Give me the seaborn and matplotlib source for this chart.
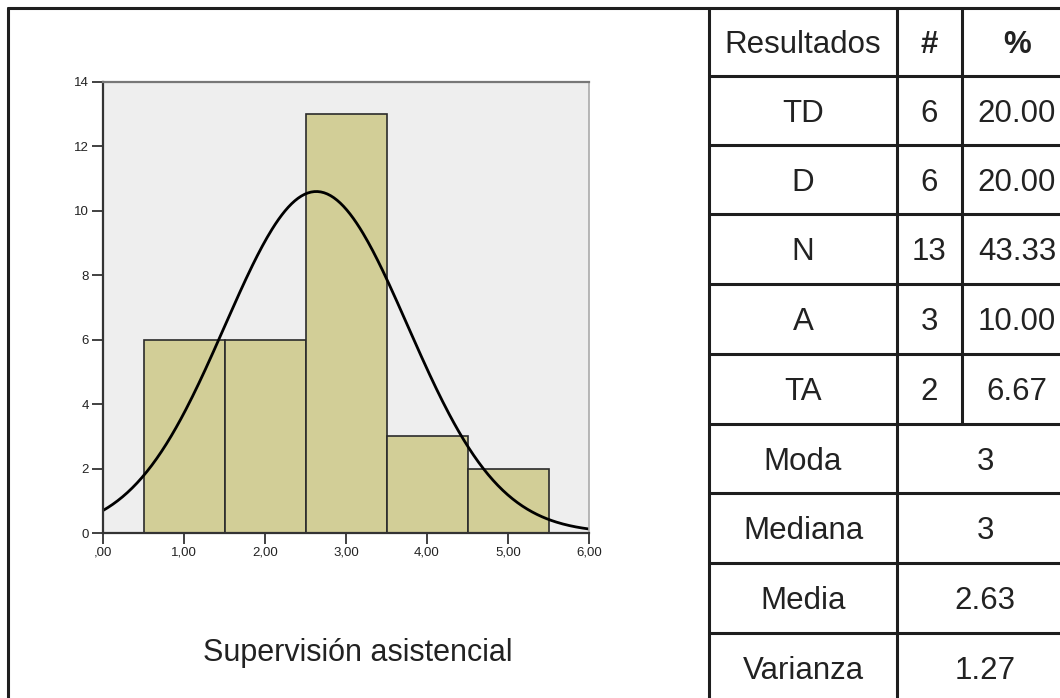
import numpy as np
import pandas as pd
import matplotlib
matplotlib.use("Agg")
import matplotlib.pyplot as plt
import seaborn as sns
from matplotlib.ticker import FuncFormatter

# Datos: puntaje (1-5) y frecuencia observada
puntajes = [1, 2, 3, 4, 5]
frecuencias = [6, 6, 13, 3, 2]

# Tabla de resultados
categorias = ["TD", "D", "N", "A", "TA"]
conteos = [6, 6, 13, 3, 2]
porcentajes = ["20.00", "20.00", "43.33", "10.00", "6.67"]
estadisticos = ["Moda", "Mediana", "Media", "Varianza"]
valores_est = ["3", "3", "2.63", "1.27"]

titulo = "Supervisión asistencial"


def formato_coma(x, pos):
    s = f"{x:.2f}".replace(".", ",")
    if s.startswith("0,"):
        s = s[1:]
    return s


def main():
    sns.set_theme(style="white")
    plt.rcParams["font.family"] = ["Liberation Sans", "DejaVu Sans"]

    W, H = 1060, 698
    fig = plt.figure(figsize=(W / 100, H / 100), dpi=100)

    df = pd.DataFrame({"puntaje": puntajes, "frecuencia": frecuencias})

    # Histograma
    ax = fig.add_axes([103 / W, 1 - 533 / H, (589 - 103) / W, (533 - 82) / H])
    ax.set_facecolor("#eeeeee")
    sns.histplot(
        data=df, x="puntaje", weights="frecuencia", discrete=True,
        color="#d2ce97", alpha=1, edgecolor="#2b2b2b", linewidth=1.2, ax=ax,
    )

    # Curva normal ajustada a los datos
    datos = np.repeat(puntajes, frecuencias)
    media = datos.mean()
    desv = datos.std(ddof=1)
    n = len(datos)
    xs = np.linspace(0, 6, 300)
    ys = n * 1.0 / (desv * np.sqrt(2 * np.pi)) * np.exp(-0.5 * ((xs - media) / desv) ** 2)
    sns.lineplot(x=xs, y=ys, color="black", linewidth=2, ax=ax)

    ax.set_xlim(0, 6)
    ax.set_ylim(0, 14)
    ax.set_xticks(range(0, 7))
    ax.set_yticks(range(0, 15, 2))
    ax.xaxis.set_major_formatter(FuncFormatter(formato_coma))
    ax.set_xlabel("")
    ax.set_ylabel("")
    ax.tick_params(axis="both", direction="out", length=8, width=1.3, color="#333333",
                   labelsize=9.5, labelcolor="#222222", pad=2,
                   bottom=True, left=True)
    for lado in ["left", "bottom"]:
        ax.spines[lado].set_color("#333333")
        ax.spines[lado].set_linewidth(1.6)
    ax.spines["top"].set_color("#777777")
    ax.spines["top"].set_linewidth(1.6)
    ax.spines["right"].set_color("#aaaaaa")
    ax.spines["right"].set_linewidth(1.2)

    # Capa para el marco y la tabla (coordenadas en píxeles)
    capa = fig.add_axes([0, 0, 1, 1], zorder=-1)
    capa.set_xlim(0, W)
    capa.set_ylim(H, 0)
    capa.axis("off")

    lc = "#1e1e1e"
    lw = 2.2
    capa.plot([8, W], [8, 8], color=lc, lw=lw)
    capa.plot([8, 8], [8, H], color=lc, lw=lw)
    capa.plot([709, 709], [8, H], color=lc, lw=lw)
    capa.plot([897, 897], [8, H], color=lc, lw=lw)

    filas = [8, 76, 145, 214, 284, 354, 424, 493, 563, 633, 703]
    capa.plot([962, 962], [8, filas[6]], color=lc, lw=lw)
    for y in filas[1:-1]:
        capa.plot([709, W], [y, y], color=lc, lw=lw)

    fs = 22.5
    tc = "#222222"
    cx1, cx2, cx3, cxm = 803, 929.5, 1017, 985
    medio_cap = fs * 100 / 72 * 0.716 / 2

    def centro(i):
        return (filas[i] + filas[i + 1]) / 2 + medio_cap

    def celda(x, y, s, **kw):
        capa.text(x, y, s, ha="center", va="baseline", fontsize=fs, color=tc, **kw)

    celda(cx1, centro(0), "Resultados")
    celda(cx2, centro(0), "#", weight="bold")
    celda(cx3, centro(0), "%", weight="bold")
    for i, (cat, c, p) in enumerate(zip(categorias, conteos, porcentajes)):
        y = centro(i + 1)
        celda(cx1, y, cat)
        celda(cx2, y, str(c))
        celda(cx3, y, p)
    for j, (nombre, val) in enumerate(zip(estadisticos, valores_est)):
        y = centro(j + 6)
        celda(cx1, y, nombre)
        celda(cxm, y, val)

    capa.text(358, 650 + medio_cap, titulo, ha="center", va="baseline", fontsize=22, color=tc)

    fig.savefig("out.png", dpi=100)
    plt.close(fig)


if __name__ == "__main__":
    main()
